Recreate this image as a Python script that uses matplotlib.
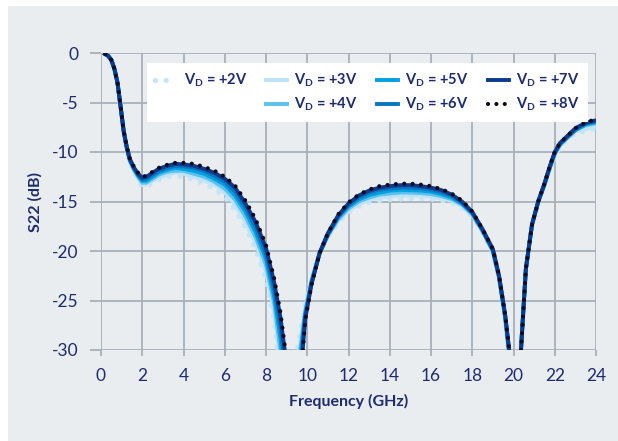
import matplotlib
matplotlib.use("Agg")
import matplotlib.pyplot as plt
from matplotlib.lines import Line2D
from matplotlib.patches import Rectangle

plt.rcParams['font.family'] = ['Lato', 'DejaVu Sans']
plt.rcParams['mathtext.fontset'] = 'custom'
plt.rcParams['mathtext.rm'] = 'Lato'
plt.rcParams['mathtext.bf'] = 'Lato:bold'

# ---------------- data ----------------
freq = [0.2, 0.35, 0.5, 0.65, 0.8, 0.95, 1.1, 1.25, 1.4, 1.6, 1.8, 2.0, 2.2, 2.5, 2.8,
        3.2, 3.6, 4.0, 4.5, 5.0, 5.5, 6.0, 6.5, 7.0, 7.5, 8.0, 8.4, 8.7, 9.0, 9.3,
        9.6, 9.9, 10.2, 10.6, 11.0, 11.5, 12.0, 12.5, 13.0, 13.5, 14.0, 14.5, 15.0, 15.5,
        16.0, 16.5, 17.0, 17.5, 18.0, 18.5, 19.0, 19.3, 19.6, 19.85, 20.1, 20.35, 20.6,
        20.9, 21.2, 21.5, 21.75, 22.0, 22.25, 22.5, 23.0, 23.5, 24.0]

s22_2v = [-0.1, -0.3, -0.7, -1.6, -3.0, -5.4, -8.0, -9.7, -11.0, -12.0, -12.8, -13.5, -13.5, -13.1, -12.8,
          -12.5, -12.4, -12.5, -12.8, -13.2, -13.7, -14.5, -15.8, -17.6, -19.8, -22.8, -27.0, -33.0, -45.0, -33.0,
          -29.0, -25.5, -22.8, -20.2, -18.6, -17.1, -16.1, -15.5, -15.1, -14.9, -14.8, -14.75, -14.7, -14.7,
          -14.75, -14.9, -15.1, -15.6, -16.5, -18.1, -20.2, -22.8, -27.0, -32.0, -42.0, -30.0, -21.8,
          -17.4, -15.1, -13.4, -11.8, -10.4, -9.5, -8.9, -8.1, -7.9, -7.6]
s22_3v = [-0.1, -0.3, -0.7, -1.6, -3.0, -5.4, -8.0, -9.7, -10.9, -11.9, -12.7, -13.3, -13.3, -12.9, -12.6,
          -12.3, -12.1, -12.2, -12.5, -12.9, -13.3, -14.1, -15.3, -17.1, -19.2, -22.1, -26.2, -31.5, -42.0, -35.0,
          -30.0, -25.8, -22.9, -20.2, -18.5, -16.9, -15.9, -15.3, -14.8, -14.6, -14.5, -14.4, -14.4, -14.4,
          -14.5, -14.7, -14.9, -15.5, -16.4, -18.0, -20.1, -22.7, -26.9, -31.8, -42.0, -30.1, -21.8,
          -17.4, -15.1, -13.4, -11.7, -10.3, -9.4, -8.8, -7.9, -7.7, -7.4]
s22_4v = [-0.1, -0.3, -0.7, -1.6, -3.0, -5.4, -8.0, -9.6, -10.9, -11.8, -12.5, -13.1, -13.1, -12.7, -12.3,
          -12.0, -11.9, -11.9, -12.2, -12.5, -13.0, -13.7, -14.8, -16.5, -18.6, -21.4, -25.3, -30.0, -38.0, -38.0,
          -31.0, -26.1, -23.1, -20.2, -18.4, -16.8, -15.7, -15.0, -14.6, -14.3, -14.2, -14.1, -14.1, -14.15,
          -14.25, -14.45, -14.75, -15.3, -16.3, -18.0, -20.0, -22.7, -26.8, -31.6, -42.0, -30.2, -21.8,
          -17.3, -15.0, -13.3, -11.7, -10.2, -9.3, -8.8, -7.8, -7.3, -7.1]
s22_5v = [-0.1, -0.3, -0.7, -1.6, -3.0, -5.4, -7.9, -9.6, -10.8, -11.7, -12.4, -12.9, -12.9, -12.5, -12.1,
          -11.8, -11.6, -11.7, -11.9, -12.2, -12.7, -13.3, -14.4, -16.0, -18.1, -20.8, -24.6, -28.8, -35.0, -42.0,
          -32.0, -26.4, -23.2, -20.2, -18.4, -16.6, -15.5, -14.8, -14.35, -14.1, -13.9, -13.85, -13.85, -13.9,
          -14.0, -14.25, -14.6, -15.2, -16.2, -17.9, -20.0, -22.6, -26.7, -31.4, -42.0, -30.3, -21.8,
          -17.3, -15.0, -13.3, -11.6, -10.1, -9.2, -8.7, -7.8, -7.2, -7.0]
s22_6v = [-0.1, -0.3, -0.7, -1.6, -3.0, -5.4, -7.9, -9.5, -10.8, -11.6, -12.3, -12.8, -12.7, -12.3, -11.9,
          -11.6, -11.4, -11.45, -11.6, -11.9, -12.4, -13.0, -14.0, -15.6, -17.6, -20.3, -23.9, -27.7, -33.0, -42.0,
          -33.5, -26.6, -23.3, -20.2, -18.3, -16.5, -15.35, -14.6, -14.1, -13.8, -13.7, -13.6, -13.6, -13.65,
          -13.8, -14.05, -14.4, -15.1, -16.1, -17.9, -19.9, -22.6, -26.6, -31.2, -42.0, -30.4, -21.8,
          -17.3, -15.0, -13.2, -11.6, -10.1, -9.2, -8.7, -7.7, -7.1, -6.9]
s22_7v = [-0.1, -0.3, -0.7, -1.6, -3.0, -5.4, -7.9, -9.5, -10.7, -11.6, -12.2, -12.6, -12.5, -12.1, -11.7,
          -11.4, -11.2, -11.25, -11.4, -11.7, -12.1, -12.7, -13.6, -15.2, -17.1, -19.7, -23.2, -26.7, -31.5, -42.0,
          -34.5, -26.9, -23.4, -20.2, -18.2, -16.4, -15.2, -14.4, -13.9, -13.6, -13.45, -13.35, -13.35, -13.45,
          -13.6, -13.85, -14.3, -15.0, -16.05, -17.8, -19.8, -22.5, -26.5, -31.1, -42.0, -30.5, -21.8,
          -17.3, -15.0, -13.2, -11.5, -10.0, -9.1, -8.6, -7.6, -7.05, -6.8]
s22_8v = [-0.1, -0.3, -0.7, -1.6, -3.0, -5.4, -7.9, -9.5, -10.7, -11.5, -12.1, -12.5, -12.4, -12.0, -11.6,
          -11.3, -11.1, -11.1, -11.2, -11.5, -11.9, -12.5, -13.4, -14.9, -16.8, -19.4, -22.8, -26.2, -31.0, -42.0,
          -35.0, -27.0, -23.5, -20.2, -18.2, -16.3, -15.1, -14.3, -13.8, -13.45, -13.3, -13.2, -13.2, -13.3,
          -13.45, -13.75, -14.2, -14.9, -16.0, -17.8, -19.8, -22.5, -26.5, -31.0, -42.0, -30.5, -21.8,
          -17.3, -15.0, -13.2, -11.5, -10.0, -9.1, -8.6, -7.6, -7.0, -6.7]

series_labels = [r"$\mathbf{V_D}$ = +2V", r"$\mathbf{V_D}$ = +3V", r"$\mathbf{V_D}$ = +4V",
                 r"$\mathbf{V_D}$ = +5V", r"$\mathbf{V_D}$ = +6V", r"$\mathbf{V_D}$ = +7V",
                 r"$\mathbf{V_D}$ = +8V"]
series_values = [s22_2v, s22_3v, s22_4v, s22_5v, s22_6v, s22_7v, s22_8v]

x_ticks = [0, 2, 4, 6, 8, 10, 12, 14, 16, 18, 20, 22, 24]
y_ticks = [0, -5, -10, -15, -20, -25, -30]
y_tick_labels = ["0", "-5", "-10", "-15", "-20", "-25", "-30"]

# ---------------- style ----------------
navy = "#1e2c6e"
grid_c = "#a7b1b9"
bg = "#e9edf0"
colors = ["#c4e6f8", "#bfe3f6", "#5dc1ee", "#00a0e3", "#0a76bf", "#0d3a8c", "#15091f"]
styles = ["dot", "solid", "solid", "solid", "solid", "solid", "dot"]

fig = plt.figure(figsize=(6.18, 4.41), dpi=100)
fig.patch.set_facecolor("white")
fig.patches.append(Rectangle((8 / 618, 0), 1, 1 - 6 / 441, transform=fig.transFigure,
                             facecolor=bg, edgecolor="none", zorder=-10))

ax = fig.add_axes([101 / 618, 1 - 350 / 441, 495 / 618, 297 / 441])
ax.set_facecolor(bg)

handles = []
for vals, lab, c, st in zip(series_values, series_labels, colors, styles):
    if st == "dot":
        lw = 3.8 if c != colors[-1] else 3.0
        ln, = ax.plot(freq, vals, color=c, lw=lw, linestyle=(0, (0.01, 2.0)),
                      dash_capstyle="round", solid_capstyle="round", label=lab, zorder=3)
    else:
        ln, = ax.plot(freq, vals, color=c, lw=2.8, label=lab, zorder=3,
                      solid_joinstyle="round")
    handles.append(ln)

ax.set_xlim(0, 24)
ax.set_ylim(-30, 0)
ax.set_xticks(x_ticks)
ax.set_yticks(y_ticks)
ax.set_yticklabels(y_tick_labels)
ax.grid(True, color=grid_c, lw=1.3, zorder=1)
ax.set_axisbelow(True)
for sp in ax.spines.values():
    sp.set_visible(False)
ax.tick_params(axis="both", colors=grid_c, labelcolor=navy, labelsize=12.5, width=1.3)
ax.tick_params(axis="y", length=8, pad=8)
ax.tick_params(axis="x", length=4, pad=9)

ax.set_xlabel("Frequency (GHz)", color=navy, fontsize=11.5, fontweight="bold", labelpad=7)
ax.set_ylabel("S22 (dB)", color=navy, fontsize=11.5, fontweight="bold", labelpad=7)

blank = Line2D([], [], color="none", label=" ")
leg_handles = [handles[0], blank, handles[1], handles[2], handles[3], handles[4], handles[5], handles[6]]
leg_labels = [series_labels[0], " ", series_labels[1], series_labels[2], series_labels[3],
              series_labels[4], series_labels[5], series_labels[6]]
leg = ax.legend(leg_handles, leg_labels, ncol=4, loc="upper right",
                bbox_to_anchor=(0.984, 0.966), frameon=True, fancybox=False,
                framealpha=1, edgecolor="none", facecolor="white", borderaxespad=0,
                prop={"weight": "bold", "size": 10.5}, handlelength=1.45, handletextpad=0.5,
                columnspacing=1.3, labelspacing=0.45, borderpad=0.6)
for t in leg.get_texts():
    t.set_color(navy)
leg.set_zorder(5)

fig.savefig("out.png", dpi=100, facecolor=fig.get_facecolor())
